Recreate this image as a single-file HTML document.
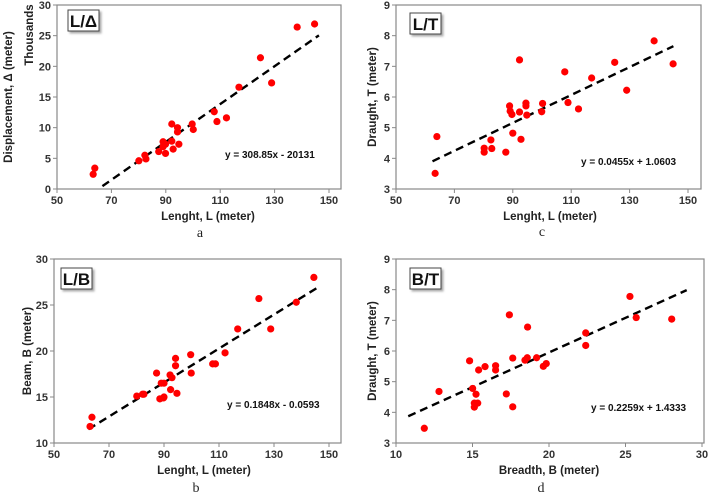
<!DOCTYPE html>
<html><head><meta charset="utf-8"><style>
html,body{margin:0;padding:0;background:#fff;}
svg{display:block;font-family:"Liberation Sans",Arial,sans-serif;}
.tk{font-size:11px;font-weight:bold;fill:#333;}
.tt{font-size:11.5px;font-weight:bold;fill:#222;}
.eq{font-size:10px;font-weight:bold;fill:#111;}
.cap{font-family:"Liberation Serif",serif;font-size:14px;fill:#222;}
.lbl{font-size:17px;font-weight:bold;fill:#111;}
</style></head><body>
<svg id="fig" width="708" height="496" viewBox="0 0 708 496" xmlns="http://www.w3.org/2000/svg">
<defs><filter id="sh" x="-20%" y="-20%" width="150%" height="150%"><feDropShadow dx="2" dy="2" stdDeviation="1" flood-color="#888" flood-opacity="0.7"/></filter></defs>
</svg>
<script>
// Panel a: Length vs Displacement (thousands)
const aL=[63.3,63.9,80.1,82.3,82.7,87.4,89.0,89.0,89.9,89.9,92.2,92.2,92.7,94.3,94.3,94.8,99.7,100.1,107.8,108.8,112.3,116.9,124.8,128.9,138.3,144.7];
const aD=[2.4,3.4,4.6,5.5,4.9,6.1,7.7,6.9,7.3,5.8,10.6,7.8,6.5,10.0,9.3,7.3,10.6,9.7,12.6,11.0,11.6,16.6,21.4,17.3,26.4,26.9];
const aXTicks=[50,70,90,110,130,150];
const aYTicks=[0,5,10,15,20,25,30];
// Panel c: Length vs Draught
const cL=[63.4,64.0,80.2,80.2,82.5,82.8,87.6,88.9,89.1,89.7,90.0,92.3,92.3,92.8,94.5,94.5,94.8,99.9,100.2,107.8,108.9,112.5,117.0,124.9,129.0,138.4,144.9];
const cT=[3.51,4.71,4.33,4.2,4.6,4.32,4.2,5.71,5.54,5.43,4.82,7.21,5.51,4.62,5.8,5.71,5.41,5.52,5.79,6.82,5.82,5.61,6.62,7.13,6.22,7.83,7.08];
const cXTicks=[50,70,90,110,130,150];
const cYTicks=[3,4,5,6,7,8,9];
// Panel b: Length vs Beam
const bL=[63.1,63.8,80.1,82.2,82.7,87.3,88.5,89.0,89.8,90.0,90.0,92.2,92.4,92.9,94.2,94.2,94.7,99.7,99.9,107.7,108.7,112.2,116.8,124.5,128.8,138.1,144.5];
const bB=[11.8,12.8,15.1,15.3,15.3,17.6,14.8,16.5,14.9,15.0,16.5,17.4,15.8,17.1,19.2,18.4,15.4,19.6,17.6,18.6,18.6,19.8,22.4,25.7,22.4,25.3,28.0];
const bXTicks=[50,70,90,110,130,150];
const bYTicks=[10,15,20,25,30];
// Panel d: Breadth vs Draught
const dB=[11.85,12.81,14.81,15.01,15.12,15.12,15.23,15.34,15.40,15.82,16.51,16.51,17.21,17.41,17.63,17.63,18.43,18.58,18.60,19.19,19.63,19.82,22.40,22.40,25.29,25.70,28.02];
const dT=[3.48,4.68,5.68,4.78,4.30,4.17,4.59,4.30,5.38,5.49,5.52,5.38,4.60,7.18,5.77,4.18,5.70,5.78,6.78,5.78,5.50,5.59,6.59,6.18,7.78,7.09,7.04];
const dXTicks=[10,15,20,25,30];
const dYTicks=[3,4,5,6,7,8,9];

const NS="http://www.w3.org/2000/svg";
const fig=document.getElementById('fig');
function mk(tag,attrs,parent){const e=document.createElementNS(NS,tag);for(const k in attrs)e.setAttribute(k,attrs[k]);(parent||fig).appendChild(e);return e;}

function panel(p){
  const g=mk('g',{});
  
  
  const sx=v=>p.x0+(v-p.xmin)/(p.xmax-p.xmin)*(p.x1-p.x0);
  const sy=v=>p.y0-(v-p.ymin)/(p.ymax-p.ymin)*(p.y0-p.y1);
  const box=mk('rect',{x:p.bl,y:p.y1,width:p.br-p.bl,height:p.y0-p.y1,fill:'#fff',stroke:'#888','stroke-width':1.2},g);
  
  
  p.xt.forEach(t=>{
    const x=sx(t);
    const tl=mk('line',{x1:x,x2:x,y1:p.y0,y2:p.y0+4,stroke:'#888'},g);
    
    
    const tx=mk('text',{x:x,y:p.y0+15,'text-anchor':'middle',class:'tk'},g);tx.textContent=t;
    
    
  });
  p.yt.forEach(t=>{
    const y=sy(t);
    const tl=mk('line',{x1:p.bl-4,x2:p.bl,y1:y,y2:y,stroke:'#888'},g);
    
    
    const tx=mk('text',{x:p.bl-6,y:y+4,'text-anchor':'end',class:'tk'},g);tx.textContent=t;
    
    
  });
  // trendline
  const tr=mk('line',{x1:sx(p.tx[0]),y1:sy(p.m*p.tx[0]+p.c),x2:sx(p.tx[1]),y2:sy(p.m*p.tx[1]+p.c),stroke:'#000','stroke-width':2.4,'stroke-dasharray':'8,5'},g);
  
  
  p.xs.forEach((v,i)=>{
    const c=mk('circle',{cx:sx(v),cy:sy(p.ys[i]),r:3.6,fill:'#f00'},g);
    
    
  });
  const lb=mk('rect',{x:p.lx,y:p.ly,width:31,height:21,fill:'#fff',stroke:'#444','stroke-width':1,filter:'url(#sh)'},g);
  
  
  const lt=mk('text',{x:p.lx+15.5,y:p.ly+17,'text-anchor':'middle',class:'lbl'},g);lt.textContent=p.label;
  
  
  const eq=mk('text',{x:p.ex,y:p.ey,class:'eq'},g);eq.textContent=p.eq;
  
  
  const xt=mk('text',{x:p.xtx,y:p.y0+31,'text-anchor':'middle',class:'tt'},g);xt.textContent=p.xtitle;
  
  
  const yc=(p.y0+p.y1)/2;
  const yt=mk('text',{x:0,y:0,'text-anchor':'middle',class:'tt',transform:`translate(${p.ytx},${yc}) rotate(-90)`},g);yt.textContent=p.ytitle;
  
  
  const cp=mk('text',{x:p.xtx-8,y:p.capy,'text-anchor':'middle',class:'cap'},g);cp.textContent=p.cap;
  
  
  return g;
}

panel({id:'a',xs:aL,ys:aD,xt:aXTicks,yt:aYTicks,xmin:50,xmax:150,ymin:0,ymax:30,x0:57,x1:329,bl:57,br:341,y0:189,y1:5,
  m:0.30885,c:-20.131,tx:[66.7,146.3],label:'L/Δ',lx:68,ly:10,eq:'y = 308.85x - 20131',ex:225,ey:158,
  xtitle:'Lenght, L (meter)',xtx:208,ytitle:'Displacement, Δ (meter)',ytx:12,cap:'a',capy:237});
const th=mk('text',{x:0,y:0,'text-anchor':'middle',class:'tt',transform:'translate(33,35) rotate(-90)'});th.textContent='Thousands';


panel({id:'c',xs:cL,ys:cT,xt:cXTicks,yt:cYTicks,xmin:50,xmax:150,ymin:3,ymax:9,x0:396,x1:688,bl:396,br:701,y0:189,y1:5,
  m:0.0455,c:1.0603,tx:[62.5,145],label:'L/T',lx:410,ly:13,eq:'y = 0.0455x + 1.0603',ex:581,ey:165,
  xtitle:'Lenght, L (meter)',xtx:550,ytitle:'Draught, T (meter)',ytx:376,cap:'c',capy:236});
panel({id:'b',xs:bL,ys:bB,xt:bXTicks,yt:bYTicks,xmin:50,xmax:150,ymin:10,ymax:30,x0:54,x1:329,bl:54,br:341,y0:443,y1:259,
  m:0.1848,c:-0.0593,tx:[62.5,146],label:'L/B',lx:61,ly:268,eq:'y = 0.1848x - 0.0593',ex:227,ey:408,
  xtitle:'Lenght, L (meter)',xtx:204,ytitle:'Beam, B (meter)',ytx:31,cap:'b',capy:492});
panel({id:'d',xs:dB,ys:dT,xt:dXTicks,yt:dYTicks,xmin:10,xmax:30,ymin:3,ymax:9,x0:396,x1:702,bl:396,br:704,y0:443,y1:259,
  m:0.2259,c:1.4333,tx:[10.8,29],label:'B/T',lx:410,ly:268,eq:'y = 0.2259x + 1.4333',ex:591,ey:411,
  xtitle:'Breadth, B (meter)',xtx:549,ytitle:'Draught, T (meter)',ytx:376,cap:'d',capy:492});
</script>
</body></html>
